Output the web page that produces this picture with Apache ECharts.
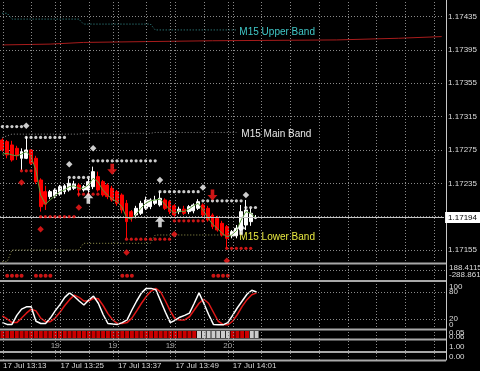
<!DOCTYPE html>
<html><head><meta charset="utf-8">
<script src="https://cdn.jsdelivr.net/npm/echarts@6/dist/echarts.min.js"></script>
<style>html,body{margin:0;padding:0;background:#000;}#c{width:480px;height:371px;}</style>
</head><body><div id="c"></div>
<script>
// ---- categories (1-minute bars starting 17 Jul 13:13) ----
const START_MIN = 13 * 60 + 13;
const N_CAT = 93;
const categories = [];
for (let k = 0; k < N_CAT; k++) {
  const m = START_MIN + k;
  categories.push(String(Math.floor(m / 60)).padStart(2, '0') + ':' + String(m % 60).padStart(2, '0'));
}
const dateText = '17 Jul';
const timeLabelBars = [0, 12, 24, 36, 48];

// ---- price tick labels ----
const PRICE_BASE = 1.17115;   // lowest tick (hidden)
const PRICE_STEP = 0.0004;
const PRICE_TOP = 1.174549;   // top edge of the price window

// ---- candles ----
const open = [1.17287,1.17285,1.17281,1.17277,1.17265,1.17265,1.17275,1.17265,1.17239,1.17225,
  1.17219,1.17220,1.17222,1.17225,1.17227,1.17229,1.17233,1.17227,1.17227,1.17231,
  1.17243,1.17237,1.17233,1.17229,1.17225,1.17221,1.17211,1.17201,1.17197,1.17199,
  1.17205,1.17207,1.17211,1.17209,1.17215,1.17213,1.17208,1.17201,1.17204,1.17201,
  1.17202,1.17205,1.17209,1.17205,1.17197,1.17193,1.17187,1.17183,1.17172,1.17172,
  1.17179,1.17185,1.17189,1.17193];
const close = [1.17275,1.17269,1.17263,1.17268,1.17273,1.17275,1.17259,1.17237,1.17207,1.17210,
  1.17225,1.17227,1.17231,1.17232,1.17235,1.17234,1.17227,1.17231,1.17237,1.17249,
  1.17227,1.17221,1.17219,1.17215,1.17211,1.17203,1.17189,1.17194,1.17205,1.17211,
  1.17215,1.17215,1.17215,1.17217,1.17205,1.17201,1.17197,1.17204,1.17199,1.17207,
  1.17209,1.17213,1.17197,1.17191,1.17183,1.17179,1.17173,1.17169,1.17177,1.17181,
  1.17201,1.17203,1.17199,1.17194];
const low = [1.17273,1.17265,1.17261,1.17263,1.17251,1.17264,1.17257,1.17234,1.17201,1.17203,
  1.17216,1.17217,1.17220,1.17222,1.17225,1.17227,1.17219,1.17225,1.17223,1.17228,
  1.17225,1.17219,1.17216,1.17213,1.17208,1.17199,1.17169,1.17189,1.17193,1.17197,
  1.17203,1.17204,1.17209,1.17207,1.17203,1.17198,1.17194,1.17198,1.17197,1.17198,
  1.17199,1.17203,1.17194,1.17189,1.17180,1.17177,1.17171,1.17157,1.17169,1.17169,
  1.17177,1.17179,1.17184,1.17192];
const high = [1.17289,1.17287,1.17286,1.17280,1.17277,1.17291,1.17276,1.17268,1.17241,1.17232,
  1.17227,1.17229,1.17233,1.17234,1.17240,1.17238,1.17235,1.17233,1.17241,1.17255,
  1.17249,1.17239,1.17235,1.17232,1.17227,1.17223,1.17215,1.17203,1.17208,1.17214,
  1.17219,1.17217,1.17220,1.17225,1.17217,1.17215,1.17210,1.17207,1.17208,1.17209,
  1.17211,1.17216,1.17211,1.17208,1.17199,1.17196,1.17190,1.17185,1.17179,1.17185,
  1.17209,1.17215,1.17205,1.17197];

// ---- fast moving line (green) ----
const fastLine = [1.17270,1.17271,1.17269,1.17268,1.17270,1.17273,1.17267,1.17251,1.17221,1.17210,
  1.17215,1.17220,1.17225,1.17227,1.17231,1.17232,1.17229,1.17229,1.17233,1.17241,
  1.17237,1.17227,1.17221,1.17216,1.17213,1.17207,1.17194,1.17192,1.17198,1.17205,
  1.17211,1.17214,1.17215,1.17216,1.17210,1.17204,1.17199,1.17202,1.17201,1.17204,
  1.17208,1.17211,1.17203,1.17194,1.17186,1.17181,1.17175,1.17171,1.17173,1.17178,
  1.17191,1.17201,1.17199,1.17194];

// ---- M15 bands: [fromBar, toBar, price] ----
const upperBand = [[0,1,1.17439],[2,16,1.17432],[17,31,1.17426],[32,49,1.17419]];
const mainBand  = [[0,0,1.17290],[1,1,1.17292],[2,16,1.17294],[17,31,1.17295],[32,49,1.17296]];
const lowerBand = [[0,1,1.17141],[2,16,1.17155],[17,31,1.17163],[32,49,1.17173]];

// ---- long red line: [bar, price] ----
const redLine = [[0,1.17401],[10,1.17402],[17,1.17404],[30,1.17405],[44,1.17406],[70,1.17407],[83,1.17409],[92,1.17411]];

// ---- resistance / support dots: [fromBar, toBar, price] ----
const resistDots = [[0,4,1.17303],[5,13,1.17290],[14,18,1.17242],[19,32,1.17262],[33,41,1.17225],[42,50,1.17214],[51,53,1.17206]];
const resistMarks = [[5,1.17304],[14,1.17258],[19,1.17277],[33,1.17239],[42,1.17230],[51,1.17221]];
const supportDots = [[4,6,1.17250],[8,15,1.17195],[16,20,1.17222],[26,35,1.17168],[36,42,1.17190],[47,52,1.17157]];
const supportMarks = [[4,1.17236],[8,1.17180],[16,1.17206],[26,1.17152],[36,1.17174],[47,1.17142]];
const buyArrows = [[18,1.17217],[33,1.17189],[50,1.17180]];
const sellArrows = [[23,1.17252],[44,1.17221]];

// ---- sub window 1 (signal dots) ----
const sub1Min = -288.861, sub1Max = 188.4115;
const sub1DotBars = [1,2,3,4,7,8,9,10,25,26,27,44,45,46,47];
const sub1DotValue = -160;

// ---- stochastic ----
const stochK = [12,8,8,28,42,47,47,15,10,10,22,38,52,68,78,70,60,51,62,71,
  55,30,10,9,8,12,18,40,60,78,88,88,85,60,35,12,17,24,28,33,
  55,78,55,30,8,7,7,12,28,45,60,75,84,80];
const stochD = [27,20,12,12,22,33,42,38,22,14,14,22,35,50,63,73,68,60,60,66,
  65,50,32,18,10,10,12,22,38,55,70,82,88,80,60,38,20,18,18,25,
  40,55,64,55,35,15,8,7,15,30,48,63,74,78];
const stochLevels = [20, 80];
const stochEnds = [0, 100];

// ---- trend squares (1 = red, 0 = white) ----
const trendState = [1,1,1,1,1,1,1,1,1,1,1,1,1,1,1,1,1,1,1,1,
  1,1,1,1,1,1,1,1,1,1,1,1,1,1,1,1,1,1,1,1,
  1,0,0,0,0,0,0,0,1,1,1,1,0,0];

// ---- hour labels ----
const hourBars = [11, 23, 35, 47];
const hourText = ['19', '19', '19', '20'];
const gridEvery = 6;

// ================= build =================
const toPts = p => (p - PRICE_BASE) * 1e5;
const fromPts = v => PRICE_BASE + v / 1e5;
function segLine(segs) {
  const out = [];
  segs.forEach(([a, b, p]) => { for (let i = a; i <= b; i++) out.push([i, toPts(p)]); });
  return out;
}
const candleData = open.map((o, i) => [toPts(o), toPts(close[i]), toPts(low[i]), toPts(high[i])]);
const lastClose = close[close.length - 1];

const vLines = [];
for (let i = 0; i < N_CAT; i += gridEvery) vLines.push({ xAxis: categories[i] });
hourBars.forEach(i => vLines.push({ xAxis: categories[i] }));

const FONT = '"Liberation Sans", Arial, sans-serif';
const L = -4.56, R = 34;
const dotted = { color: '#8a8a8a', type: [1, 2], width: 1 };
const upPath = 'path://M5,0 L10,5 L6.8,5 L6.8,10 L3.2,10 L3.2,5 L0,5 Z';
const downPath = 'path://M3.2,0 L6.8,0 L6.8,5 L10,5 L5,10 L0,5 L3.2,5 Z';
const lblColor = '#dcdcdc';

function xAx(gi, extra) {
  return Object.assign({ type: 'category', gridIndex: gi, data: categories, boundaryGap: true, show: false }, extra || {});
}

const option = {
  backgroundColor: '#000',
  animation: false,
  textStyle: { fontFamily: FONT },
  grid: [
    { left: L, right: R, top: 0, height: 283.34 },
    { left: L, right: R, top: 264, height: 16 },
    { left: L, right: R, top: 283, height: 45 },
    { left: L, right: R, top: 330.5, height: 8 },
    { left: L, right: R, top: 340, height: 11 },
    { left: L, right: R, top: 0, height: 360 }
  ],
  xAxis: [
    xAx(0), xAx(1), xAx(2), xAx(3), xAx(4),
    xAx(5, {
      show: true, axisLine: { show: false }, axisTick: { show: false }, splitLine: { show: false },
      axisLabel: {
        show: true, interval: (idx) => timeLabelBars.indexOf(idx) >= 0, align: 'left', margin: 2,
        color: '#d8d8d8', fontSize: 8, fontFamily: FONT,
        formatter: v => dateText + ' ' + v
      }
    })
  ],
  yAxis: [
    { type: 'value', gridIndex: 0, position: 'right', min: 0, max: toPts(PRICE_TOP), interval: PRICE_STEP * 1e5,
      axisLine: { show: false }, axisTick: { show: false },
      axisLabel: { color: lblColor, fontSize: 8, margin: 4, fontFamily: FONT, showMinLabel: false, showMaxLabel: false,
        formatter: v => fromPts(v).toFixed(5) },
      splitLine: { show: true, showMinLine: false, showMaxLine: false, lineStyle: dotted } },
    { type: 'value', gridIndex: 1, min: sub1Min, max: sub1Max, show: false },
    // stochastic: 20 / 80 labels
    { type: 'value', gridIndex: 2, position: 'right', min: 0, max: 100, interval: 20,
      axisLine: { show: false }, axisTick: { show: false }, splitLine: { show: false },
      axisLabel: { color: lblColor, fontSize: 8, margin: 3, fontFamily: FONT, showMinLabel: false, showMaxLabel: false,
        formatter: v => stochLevels.indexOf(v) >= 0 ? String(v) : '' } },
    { type: 'value', gridIndex: 3, min: 0, max: 1, show: false },
    { type: 'value', gridIndex: 4, min: 0, max: 1, show: false },
    { type: 'value', gridIndex: 5, min: 0, max: 1, position: 'right',
      axisLine: { show: true, lineStyle: { color: '#c8c8c8', width: 1 } },
      axisTick: { show: false }, axisLabel: { show: false }, splitLine: { show: false } },
    // stochastic: 0 / 100 labels
    { type: 'value', gridIndex: 2, position: 'right', min: 0, max: 100, interval: 20,
      axisLine: { show: false }, axisTick: { show: false }, splitLine: { show: false },
      axisLabel: { color: lblColor, fontSize: 8, margin: 3, fontFamily: FONT, showMinLabel: true, showMaxLabel: true,
        formatter: v => v === stochEnds[1] ? '{t|' + v + '}' : v === stochEnds[0] ? '{b|' + v + '}' : '',
        rich: { t: { padding: [7, 0, 0, 0], fontSize: 8, color: lblColor }, b: { padding: [0, 0, 7, 0], fontSize: 8, color: lblColor } } } }
  ],
  series: [
    { type: 'line', xAxisIndex: 5, yAxisIndex: 5, data: [], z: 1, silent: true,
      markLine: { silent: true, symbol: ['none', 'none'], label: { show: false }, lineStyle: dotted, data: vLines } },
    { type: 'line', name: 'red', xAxisIndex: 0, yAxisIndex: 0, data: redLine.map(([i, p]) => [i, toPts(p)]),
      symbol: 'none', lineStyle: { color: '#a81c1c', width: 1 }, z: 2 },
    { type: 'line', name: 'M15 Upper Band', xAxisIndex: 0, yAxisIndex: 0, data: segLine(upperBand), symbol: 'none',
      lineStyle: { color: '#3a9c9c', width: 1, type: [1, 2] }, z: 2,
      endLabel: { show: true, formatter: '{a}', color: '#40c8c8', fontSize: 10, distance: 3, offset: [0, 2], fontFamily: FONT } },
    { type: 'line', name: 'M15 Main Band', xAxisIndex: 0, yAxisIndex: 0, data: segLine(mainBand), symbol: 'none',
      lineStyle: { color: '#8c8c8c', width: 1, type: [1, 2] }, z: 2,
      endLabel: { show: true, formatter: '{a}', color: '#e8e8e8', fontSize: 10, distance: 5, offset: [0, 2], fontFamily: FONT } },
    { type: 'line', name: 'M15 Lower Band', xAxisIndex: 0, yAxisIndex: 0, data: segLine(lowerBand), symbol: 'none',
      lineStyle: { color: '#9a9a50', width: 1, type: [1, 2] }, z: 2,
      endLabel: { show: true, formatter: '{a}', color: '#e6e640', fontSize: 10, distance: 3, offset: [0, 2], fontFamily: FONT } },
    { type: 'candlestick', xAxisIndex: 0, yAxisIndex: 0, data: candleData, barWidth: 3.4, z: 3,
      itemStyle: { color: '#ffffff', color0: '#ff0000', borderColor: '#ffffff', borderColor0: '#ff0000', borderWidth: 1 },
      markLine: { silent: true, symbol: ['none', 'none'], z: 5,
        lineStyle: { color: '#c4c4c4', width: 1, type: 'solid' },
        label: { show: true, position: 'end', distance: 1, formatter: () => lastClose.toFixed(5),
          backgroundColor: '#ffffff', color: '#000000', fontSize: 8, padding: [2, 3, 1, 3], fontFamily: FONT },
        data: [{ yAxis: toPts(lastClose) }] } },
    { type: 'line', xAxisIndex: 0, yAxisIndex: 0, data: fastLine.map(toPts), symbol: 'none',
      lineStyle: { color: '#5c9c3c', width: 1 }, z: 4 },
    { type: 'scatter', xAxisIndex: 0, yAxisIndex: 0, data: segLine(resistDots), symbol: 'circle', symbolSize: 3.2,
      itemStyle: { color: '#ffffff' }, z: 5 },
    { type: 'scatter', xAxisIndex: 0, yAxisIndex: 0, data: segLine(supportDots), symbol: 'circle', symbolSize: 3.2,
      itemStyle: { color: '#ff1a1a' }, z: 5 },
    { type: 'scatter', xAxisIndex: 0, yAxisIndex: 0, data: resistMarks.map(([i, p]) => [i, toPts(p)]), symbol: 'diamond', symbolSize: 6.5,
      itemStyle: { color: '#ffffff' }, z: 5 },
    { type: 'scatter', xAxisIndex: 0, yAxisIndex: 0, data: supportMarks.map(([i, p]) => [i, toPts(p)]), symbol: 'diamond', symbolSize: 6.5,
      itemStyle: { color: '#ff1a1a' }, z: 5 },
    { type: 'scatter', xAxisIndex: 0, yAxisIndex: 0, data: buyArrows.map(([i, p]) => [i, toPts(p)]), symbol: upPath, symbolSize: [10, 11],
      itemStyle: { color: '#ffffff' }, z: 6 },
    { type: 'scatter', xAxisIndex: 0, yAxisIndex: 0, data: sellArrows.map(([i, p]) => [i, toPts(p)]), symbol: downPath, symbolSize: [10, 11],
      itemStyle: { color: '#ff1a1a' }, z: 6 },
    // sub window 1
    { type: 'scatter', xAxisIndex: 1, yAxisIndex: 1, data: sub1DotBars.map(i => [i, sub1DotValue]), symbol: 'circle', symbolSize: 4,
      itemStyle: { color: '#ff1a1a' }, z: 3,
      markLine: { silent: true, symbol: ['none', 'none'], label: { show: false }, lineStyle: dotted, data: [{ yAxis: 0 }] } },
    // stochastic
    { type: 'line', xAxisIndex: 2, yAxisIndex: 2, data: stochD, symbol: 'none', lineStyle: { color: '#e01818', width: 1.5 }, z: 3,
      markLine: { silent: true, symbol: ['none', 'none'], label: { show: false }, lineStyle: dotted, data: stochLevels.map(v => ({ yAxis: v })) } },
    { type: 'line', xAxisIndex: 2, yAxisIndex: 2, data: stochK, symbol: 'none', lineStyle: { color: '#ffffff', width: 1.5 }, z: 4 },
    // trend squares
    { type: 'scatter', xAxisIndex: 3, yAxisIndex: 3, data: trendState.map((s, i) => ({ value: [i, 0.5], itemStyle: { color: s ? '#ff0000' : '#ffffff' } })),
      symbol: 'rect', symbolSize: [4, 7], z: 3 },
    // hour labels
    { type: 'scatter', xAxisIndex: 4, yAxisIndex: 4, data: hourBars.map((i, k) => ({ value: [i, 0.5], name: hourText[k] })),
      symbolSize: 0, z: 3,
      label: { show: true, position: 'inside', formatter: '{b}', color: '#d0d0d0', fontSize: 8, fontFamily: FONT } }
  ],
  graphic: {
    elements: [
      ...[262.5, 280, 328.5, 338.5, 351, 359.5].map(y => ({ type: 'rect', z: 100, silent: true,
        shape: { x: 0, y: y, width: 446, height: 2 }, style: { fill: '#a8a8a8' } })),
      ...[['188.4115', 268], ['-288.861', 274.5], ['0.05', 333], ['0.06', 336.5], ['1.00', 346.5], ['0.00', 356.5]].map(([t, y]) => ({
        type: 'text', z: 100, silent: true, x: 449, y: y,
        style: { text: t, fill: lblColor, font: '8px ' + FONT, align: 'left', verticalAlign: 'middle' } }))
    ]
  }
};
const chart = echarts.init(document.getElementById('c'), null, { renderer: 'canvas' });
chart.setOption(option);
</script></body></html>
